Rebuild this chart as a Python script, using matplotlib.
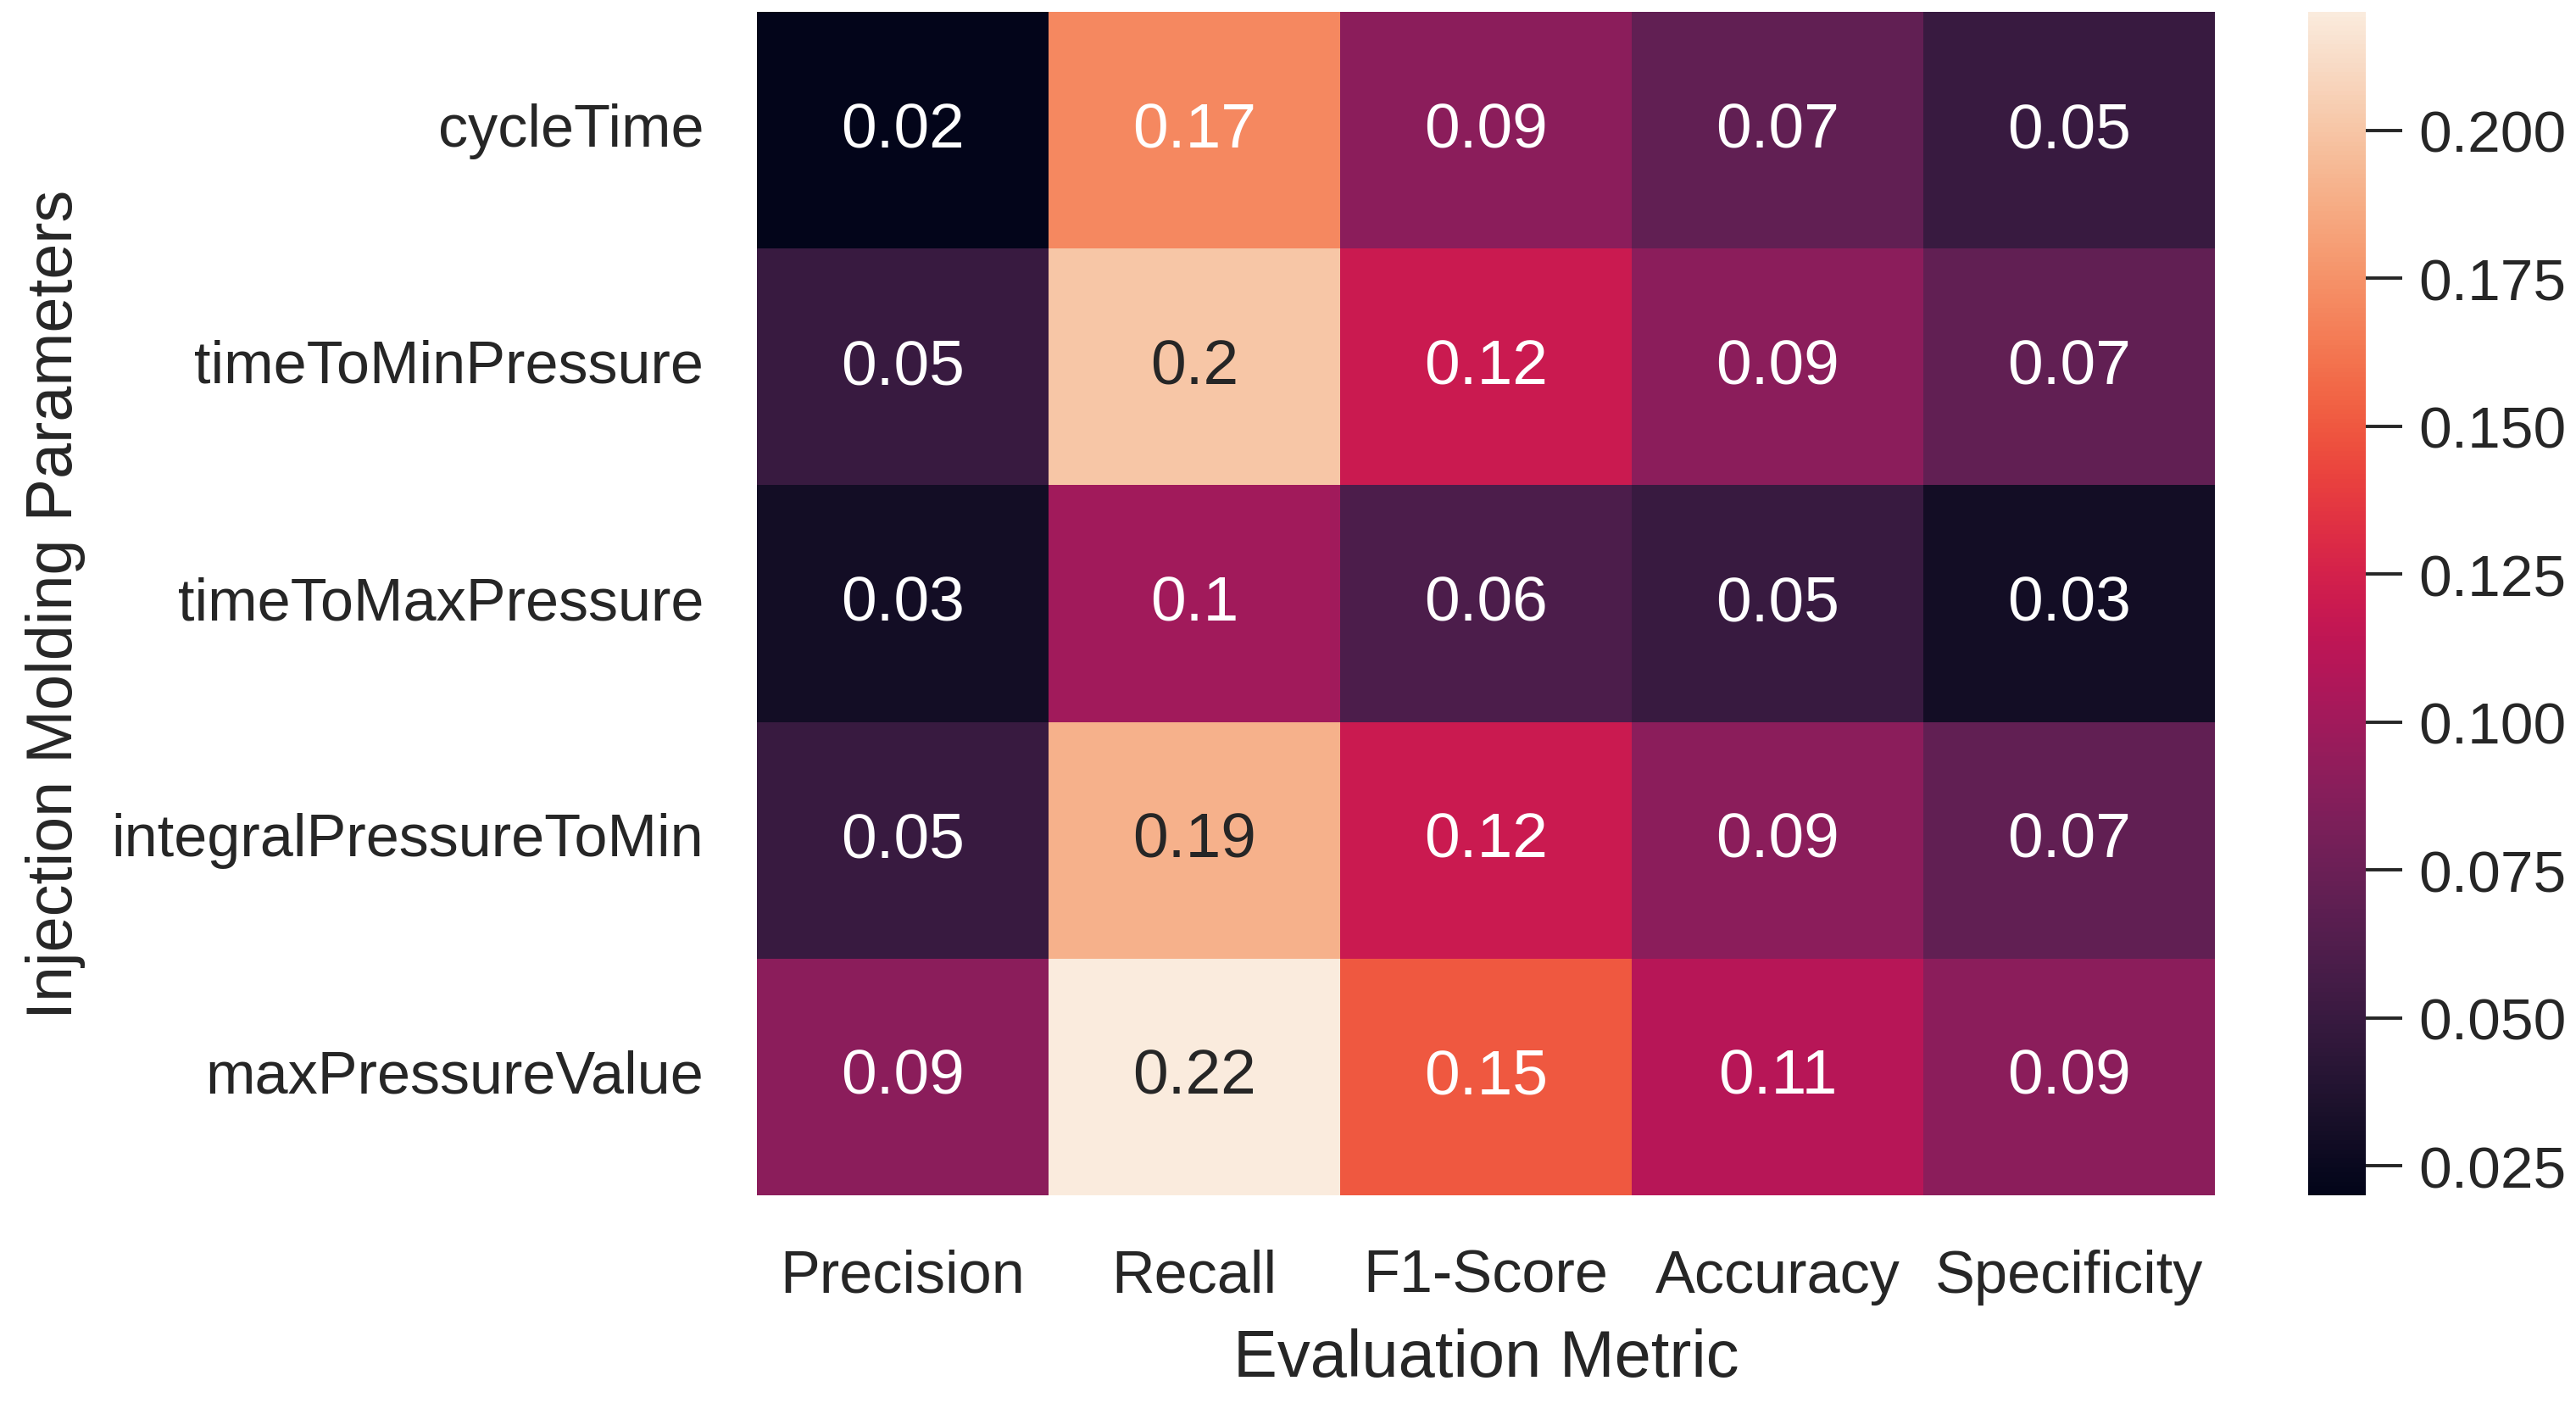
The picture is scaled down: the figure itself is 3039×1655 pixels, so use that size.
import numpy as np
import matplotlib
matplotlib.use("Agg")
import matplotlib.pyplot as plt
import seaborn as sns

# rows = injection molding parameters, columns = evaluation metrics
parameters = ["cycleTime", "timeToMinPressure", "timeToMaxPressure",
              "integralPressureToMin", "maxPressureValue"]
metrics = ["Precision", "Recall", "F1-Score", "Accuracy", "Specificity"]

cycle_time = [0.02, 0.17, 0.09, 0.07, 0.05]
time_to_min = [0.05, 0.20, 0.12, 0.09, 0.07]
time_to_max = [0.03, 0.10, 0.06, 0.05, 0.03]
integral_to_min = [0.05, 0.19, 0.12, 0.09, 0.07]
max_pressure = [0.09, 0.22, 0.15, 0.11, 0.09]

data = np.array([cycle_time, time_to_min, time_to_max, integral_to_min, max_pressure])

sns.set_theme(style="white")
plt.rcParams["font.family"] = ["Liberation Sans", "DejaVu Sans"]

fig = plt.figure(figsize=(15.195, 8.28), dpi=200)
ax = fig.add_axes([0.2938, 0.1479, 0.5660, 0.8430])
cax = fig.add_axes([0.8960, 0.1479, 0.0224, 0.8430])

sns.heatmap(data, ax=ax, cbar_ax=cax, cmap="rocket", annot=True, fmt=".2g",
            annot_kws={"size": 27}, xticklabels=metrics, yticklabels=parameters)

ax.tick_params(axis="both", length=15.5, pad=7, labelsize=25.3, left=False, bottom=False)
ax.set_yticklabels(parameters, rotation=0)
ax.set_xticklabels(metrics, rotation=0)
ax.set_xlabel("Evaluation Metric", fontsize=28, labelpad=10)
ax.set_ylabel("Injection Molding Parameters", fontsize=27.2, labelpad=11)

cax.tick_params(length=15.5, width=1.4, pad=7, labelsize=25, color="#262626")

fig.savefig("out.png", dpi=200)
